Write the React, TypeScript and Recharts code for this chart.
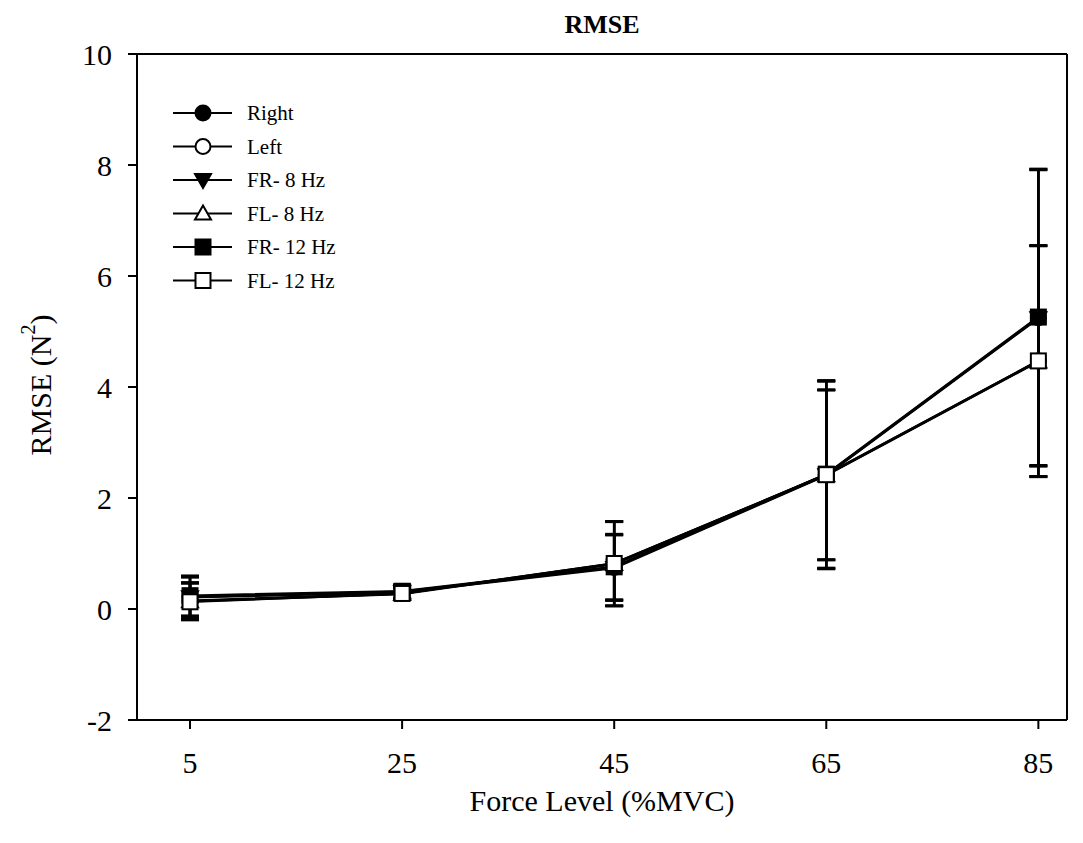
import React from 'react';
import {
  LineChart,
  Line,
  XAxis,
  YAxis,
  ErrorBar,
  ReferenceLine,
  Label,
  Customized
} from 'recharts';

const forceLevels = [5, 25, 45, 65, 85];

const rightMean = [0.22, 0.31, 0.75, 2.42, 5.25];
const leftMean = [0.15, 0.28, 0.82, 2.42, 4.47];
const fr8Mean = [0.21, 0.3, 0.74, 2.41, 5.24];
const fl8Mean = [0.14, 0.27, 0.81, 2.41, 4.46];
const fr12Mean = [0.24, 0.32, 0.76, 2.43, 5.26];
const fl12Mean = [0.13, 0.28, 0.82, 2.42, 4.47];

const filledErr = [0.36, 0.12, 0.59, 1.69, 2.67];
const openErr = [0.33, 0.1, 0.76, 1.53, 2.08];

const yTicks = [-2, 0, 2, 4, 6, 8, 10];
const X_MAX = 87.7;

type Kind = 'circle' | 'down' | 'up' | 'square';

interface SeriesDef {
  key: string;
  name: string;
  values: number[];
  err: number[];
  kind: Kind;
  filled: boolean;
}

const series: SeriesDef[] = [
  { key: 'right', name: 'Right', values: rightMean, err: filledErr, kind: 'circle', filled: true },
  { key: 'left', name: 'Left', values: leftMean, err: openErr, kind: 'circle', filled: false },
  { key: 'fr8', name: 'FR- 8 Hz', values: fr8Mean, err: filledErr, kind: 'down', filled: true },
  { key: 'fl8', name: 'FL- 8 Hz', values: fl8Mean, err: openErr, kind: 'up', filled: false },
  { key: 'fr12', name: 'FR- 12 Hz', values: fr12Mean, err: filledErr, kind: 'square', filled: true },
  { key: 'fl12', name: 'FL- 12 Hz', values: fl12Mean, err: openErr, kind: 'square', filled: false }
];

const data = forceLevels.map((x, i) => {
  const row: Record<string, number> = { x };
  series.forEach((s) => {
    row[s.key] = s.values[i];
    row[s.key + 'Err'] = s.err[i];
  });
  return row;
});

const FONT = '"Liberation Serif", "Times New Roman", serif';

const Marker = ({ kind, filled, cx, cy }: { kind: Kind; filled: boolean; cx: number; cy: number }) => {
  const fill = filled ? '#000' : '#fff';
  const common = { fill, stroke: '#000', strokeWidth: 2 };
  if (kind === 'circle') return <circle cx={cx} cy={cy} r={7.5} {...common} />;
  if (kind === 'square') return <rect x={cx - 7.5} y={cy - 7.5} width={15} height={15} {...common} />;
  if (kind === 'down')
    return <polygon points={`${cx - 8},${cy - 6} ${cx + 8},${cy - 6} ${cx},${cy + 8}`} {...common} />;
  return <polygon points={`${cx - 8},${cy + 6} ${cx + 8},${cy + 6} ${cx},${cy - 8}`} {...common} />;
};

// legend drawn in svg so it doesn't eat plot space
const LegendBox = () => (
  <g>
    {series.map((s, i) => {
      const y = 105 + i * 33.5;
      return (
        <g key={s.key}>
          <line x1={165} y1={y} x2={224} y2={y} stroke="#000" strokeWidth={2} />
          <Marker kind={s.kind} filled={s.filled} cx={195} cy={y} />
          <text x={239} y={y} dominantBaseline="central" fontFamily={FONT} fontSize={21} fill="#000">
            {s.name}
          </text>
        </g>
      );
    })}
  </g>
);

const Title = () => (
  <text x={594} y={25} textAnchor="middle" fontFamily={FONT} fontWeight="bold" fontSize={26} fill="#000">
    RMSE
  </text>
);

const YTitle = () => (
  <text
    x={32}
    y={377}
    transform="rotate(-90, 32, 377)"
    textAnchor="middle"
    dominantBaseline="central"
    fontFamily={FONT}
    fontSize={30}
    fill="#000"
  >
    RMSE (N
    <tspan dy={-12} fontSize={20}>
      2
    </tspan>
    <tspan dy={12}>)</tspan>
  </text>
);

export default function App() {
  return (
    <LineChart
      width={1075}
      height={835}
      data={data}
      margin={{ top: 46, right: 16, left: 69, bottom: 63 }}
      style={{ fontFamily: FONT }}
    >
      <Customized component={<Title />} />
      <Customized component={<LegendBox />} />
      <XAxis
        dataKey="x"
        type="number"
        domain={[0, X_MAX]}
        ticks={forceLevels}
        allowDataOverflow
        height={60}
        axisLine={{ stroke: '#000', strokeWidth: 2 }}
        tickLine={{ stroke: '#000', strokeWidth: 2 }}
        tickSize={9}
        tickMargin={23}
        tick={{ fill: '#000', fontSize: 30, fontFamily: FONT }}
      >
        <Label
          value="Force Level (%MVC)"
          position="bottom"
          offset={0}
          dy={10}
          style={{ fill: '#000', fontSize: 30, fontFamily: FONT }}
        />
      </XAxis>
      <YAxis
        type="number"
        domain={[-2, 10]}
        ticks={yTicks}
        width={60}
        axisLine={{ stroke: '#000', strokeWidth: 2 }}
        tickLine={{ stroke: '#000', strokeWidth: 2 }}
        tickSize={9}
        tickMargin={16}
        tick={{ fill: '#000', fontSize: 30, fontFamily: FONT }}
        label={{ content: () => <YTitle /> }}
      />
      <ReferenceLine y={10} stroke="#000" strokeWidth={2} />
      <ReferenceLine x={X_MAX} stroke="#000" strokeWidth={2} />
      {series.map((s) => (
        <Line
          key={s.key}
          dataKey={s.key}
          name={s.name}
          type="linear"
          stroke="#000"
          strokeWidth={2.5}
          isAnimationActive={false}
          dot={(p: any) => (
            <Marker key={`${s.key}-${p.index}`} kind={s.kind} filled={s.filled} cx={p.cx} cy={p.cy} />
          )}
          activeDot={false}
        >
          <ErrorBar dataKey={s.key + 'Err'} width={9} stroke="#000" strokeWidth={2.5} direction="y" />
        </Line>
      ))}
    </LineChart>
  );
}
